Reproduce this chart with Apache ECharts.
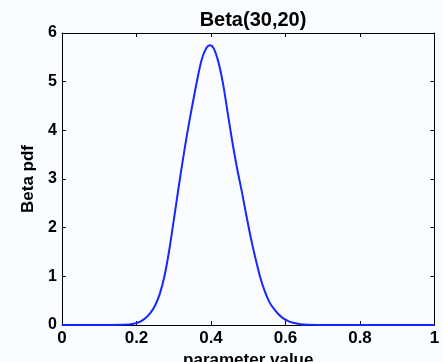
<!DOCTYPE html>
<html>
<head>
<meta charset="utf-8">
<script src="https://cdn.jsdelivr.net/npm/echarts@6/dist/echarts.min.js"></script>
<style>
  html, body { margin: 0; padding: 0; background: #fafdff; }
  #chart { width: 443px; height: 362px; }
</style>
</head>
<body>
<div id="chart"></div>
<script>
// values
const paramValues = [0, 0.1, 0.18, 0.2, 0.2125, 0.225, 0.2375, 0.25, 0.2625, 0.275, 0.2875, 0.3, 0.3125,
  0.325, 0.3375, 0.35, 0.3625, 0.375, 0.3875, 0.3975, 0.4075, 0.42, 0.4325, 0.445, 0.4575, 0.47, 0.4825,
  0.495, 0.5075, 0.52, 0.5325, 0.545, 0.5575, 0.57, 0.5825, 0.595, 0.6075, 0.62, 0.64, 0.66, 0.7, 0.8, 0.9, 1];
const pdfValues = [0, 0, 0.01, 0.04, 0.08, 0.15, 0.25, 0.40, 0.64, 1.0, 1.52, 2.15, 2.80,
  3.42, 4.00, 4.52, 5.02, 5.45, 5.69, 5.75, 5.68, 5.40, 4.95, 4.35, 3.75, 3.22, 2.75,
  2.25, 1.77, 1.35, 0.97, 0.68, 0.46, 0.32, 0.21, 0.13, 0.08, 0.045, 0.015, 0.003, 0, 0, 0, 0];
const xTicks = [0, 0.2, 0.4, 0.6, 0.8, 1];
const yTicks = [0, 1, 2, 3, 4, 5, 6];

const chart = echarts.init(document.getElementById("chart"));

const font = "'Liberation Sans', Arial, sans-serif";
const tickStyle = { show: true, inside: true, length: 4, lineStyle: { color: "#000", width: 1 } };
const lineStyle = { show: true, onZero: false, lineStyle: { color: "#000", width: 1 } };

const option = {
  backgroundColor: "#fafdff",
  animation: false,
  title: {
    text: "Beta(30,20)",
    left: 248,
    textAlign: "center",
    top: 5,
    textStyle: { fontFamily: font, fontWeight: "bold", fontSize: 20, color: "#000" },
  },
  grid: { left: 62, right: 8.5, top: 33, bottom: 37, outerBoundsMode: "none", containLabel: false },
  xAxis: [
    {
      type: "value",
      min: 0,
      max: 1,
      interval: 0.2,
      axisLine: lineStyle,
      axisTick: tickStyle,
      splitLine: { show: false },
      axisLabel: {
        margin: 5,
        fontFamily: font,
        fontWeight: "bold",
        fontSize: 17,
        color: "#000",
        formatter: (v) => (xTicks.includes(+v.toFixed(1)) ? String(+v.toFixed(1)) : ""),
      },
      name: "parameter value",
      nameLocation: "middle",
      nameGap: 17,
      nameTextStyle: { fontFamily: font, fontWeight: "bold", fontSize: 17, color: "#000", verticalAlign: "top" },
    },
    {
      type: "value",
      position: "top",
      min: 0,
      max: 1,
      interval: 0.2,
      axisLine: lineStyle,
      axisTick: tickStyle,
      axisLabel: { show: false },
      splitLine: { show: false },
    },
  ],
  yAxis: [
    {
      type: "value",
      min: 0,
      max: 6,
      interval: 1,
      axisLine: lineStyle,
      axisTick: tickStyle,
      splitLine: { show: false },
      axisLabel: {
        margin: 5,
        fontFamily: font,
        fontWeight: "bold",
        fontSize: 16,
        color: "#000",
        formatter: (v) => (yTicks.includes(v) ? String(v) : ""),
      },
      name: "Beta pdf",
      nameLocation: "middle",
      nameGap: 21,
      nameTextStyle: { fontFamily: font, fontWeight: "bold", fontSize: 17, color: "#000" },
    },
    {
      type: "value",
      position: "right",
      min: 0,
      max: 6,
      interval: 1,
      axisLine: lineStyle,
      axisTick: tickStyle,
      axisLabel: { show: false },
      splitLine: { show: false },
    },
  ],
  series: [
    {
      type: "line",
      data: paramValues.map((x, i) => [x, pdfValues[i]]),
      smooth: 0.3,
      showSymbol: false,
      lineStyle: { color: "#1428ff", width: 2 },
    },
  ],
};

chart.setOption(option);
</script>
</body>
</html>
